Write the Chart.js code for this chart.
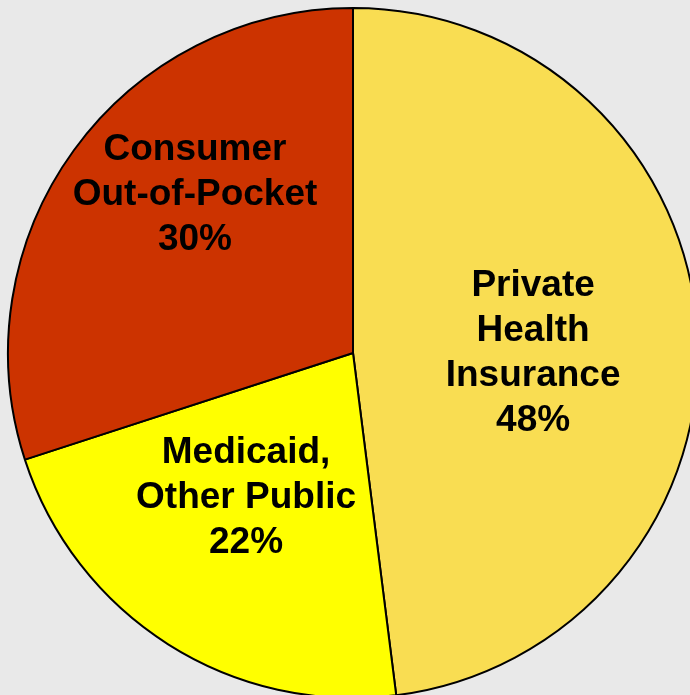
<!doctype html>
<html lang="en">
<head>
<meta charset="utf-8">
<title>Health spending by payer</title>
<script src="https://cdn.jsdelivr.net/npm/chart.js@4"></script>
<style>
  html, body { margin: 0; padding: 0; background: #e9e9e9; overflow: hidden; }
  #pie { display: block; }
</style>
</head>
<body>
<canvas id="pie" width="706" height="706"></canvas>
<script>
// data
var labels = [
  ["Private", "Health", "Insurance"],
  ["Medicaid,", "Other Public"],
  ["Consumer", "Out-of-Pocket"]
];
var shares = [48, 22, 30];

var colors = ["#f9dd52", "#ffff00", "#cc3300"];
// label block centre, as a fraction of the radius from the pie centre
var labelOffsets = [[0.522, 0.0], [-0.31, 0.42], [-0.458, -0.458]];

var sliceLabels = {
  id: "sliceLabels",
  afterDraw: function(chart) {
    var ctx = chart.ctx;
    var meta = chart.getDatasetMeta(0);
    var lineH = 45;
    ctx.save();
    ctx.fillStyle = "#000";
    ctx.font = "bold 37px 'Liberation Sans', Arial, sans-serif";
    ctx.textAlign = "center";
    ctx.textBaseline = "middle";
    meta.data.forEach(function(arc, i) {
      var p = arc.getProps(["x", "y", "outerRadius"], true);
      var lines = labels[i].concat([shares[i] + "%"]);
      var cx = p.x + labelOffsets[i][0] * p.outerRadius;
      var cy = p.y + labelOffsets[i][1] * p.outerRadius;
      var top = cy - (lines.length - 1) * lineH / 2;
      lines.forEach(function(t, j) {
        ctx.fillText(t, cx, top + j * lineH);
      });
    });
    ctx.restore();
  }
};

new Chart(document.getElementById("pie"), {
  type: "pie",
  data: {
    labels: labels.map(function(l) { return l.join(" "); }),
    datasets: [{
      data: shares,
      backgroundColor: colors,
      borderColor: "#000",
      borderWidth: 2
    }]
  },
  options: {
    responsive: false,
    animation: false,
    devicePixelRatio: 1,
    radius: 345,
    layout: { padding: 0 },
    plugins: {
      legend: { display: false },
      tooltip: { enabled: false }
    }
  },
  plugins: [sliceLabels]
});
</script>
</body>
</html>
